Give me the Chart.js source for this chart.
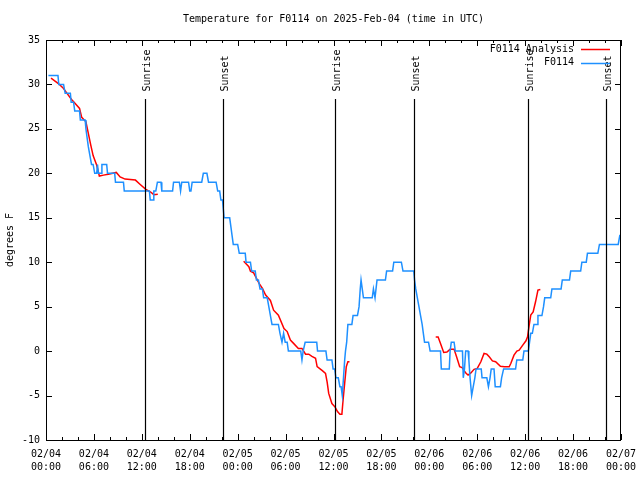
<!DOCTYPE html>
<html><head><meta charset="utf-8">
<script src="https://cdn.jsdelivr.net/npm/chart.js@4/dist/chart.umd.min.js"></script>
<style>html,body{margin:0;padding:0;background:#fff}#wrap{width:640px;height:480px;position:relative}</style>
</head><body><div id="wrap"><canvas id="c" width="640" height="480"></canvas></div>
<script>
const titleText = 'Temperature for F0114 on 2025-Feb-04 (time in UTC)';
const yAxisLabel = 'degrees F';
const seriesLabels = ['F0114 Analysis', 'F0114'];
const seriesColors = ['#ff0000', '#1e90ff'];
// x tick labels every 6 hours from 02/04 00:00 (x values are hours since then)
const xTickLabels = [
  ['02/04','00:00'],['02/04','06:00'],['02/04','12:00'],['02/04','18:00'],
  ['02/05','00:00'],['02/05','06:00'],['02/05','12:00'],['02/05','18:00'],
  ['02/06','00:00'],['02/06','06:00'],['02/06','12:00'],['02/06','18:00'],
  ['02/07','00:00']
];
const sunriseHours = [12.4, 36.25, 60.4];
const sunsetHours = [22.2, 46.1, 70.15];

// Observed F0114 temperature: [hours since 02/04 00:00, degF]
const obsPoints = [
[0.3,31],[1.5,31],[1.6,30],[2.2,30],[2.4,29],[3.05,29],[3.15,28],[3.45,28],[3.6,27],[4.2,27],[4.3,26],[4.9,26],
[5.0,25],[5.15,24],[5.3,23],[5.5,22],[5.7,21],[5.9,21],[6.1,20],[6.35,20],[6.45,21],[6.55,20],[6.9,20],[7.0,21],
[7.6,21],[7.7,20],[8.6,20],[8.7,19],[9.7,19],[9.8,18],[12.95,18],[13.05,17],[13.4,17],[13.5,18],[13.75,18],[13.95,19],
[14.4,19],[14.5,18],[15.85,18],[15.97,19],[16.7,19],[16.85,18],[17.0,19],[17.85,19],[18.0,18],[18.15,18],[18.3,19],
[19.5,19],[19.7,20],[20.15,20],[20.35,19],[21.3,19],[21.5,18],[21.75,18],[21.9,17],[22.1,17],[22.2,16],[22.3,15],
[23.0,15],[23.15,14],[23.3,13],[23.45,12],[24.0,12],[24.2,11],[24.95,11],[25.05,10],[25.6,10],[25.75,9],[26.2,9],
[26.35,8],[26.6,8],[26.8,7],[27.1,7],[27.25,6],[27.7,6],[27.9,5],[28.1,4],[28.3,3],[29.1,3],[29.3,2],[29.55,1],
[29.75,2],[29.95,1],[30.2,1],[30.35,0],[31.9,0],[32.05,-1],[32.2,0],[32.45,1],[33.9,1],[34.0,0],[35.05,0],[35.2,-1],
[35.8,-1],[35.95,-2],[36.15,-2],[36.3,-3],[36.6,-3],[36.8,-4],[36.95,-4],[37.1,-5],[37.25,-3],[37.4,-1],[37.5,0],
[37.65,1],[37.8,3],[38.3,3],[38.45,4],[39.0,4],[39.2,5],[39.35,7],[39.45,8],[39.6,7],[39.75,6],[40.85,6],[41.0,7],
[41.2,6],[41.3,6],[41.45,8],[42.5,8],[42.65,9],[43.4,9],[43.55,10],[44.5,10],[44.7,9],[46.05,9],[46.15,8],[46.3,7],
[46.5,6],[46.7,5],[46.9,4],[47.1,3],[47.25,2],[47.4,1],[47.9,1],[48.1,0],[49.4,0],[49.5,-2],[50.5,-2],[50.6,0],
[50.75,1],[51.1,1],[51.25,0],[52.15,0],[52.25,-3],[52.4,-2],[52.55,0],[52.85,0],[52.95,-1],[53.1,-3],[53.3,-5],
[53.5,-4],[53.7,-3],[53.85,-2],[54.5,-2],[54.6,-3],[55.2,-3],[55.4,-4],[55.6,-3],[55.75,-2],[56.1,-2],[56.25,-4],
[56.9,-4],[57.05,-3],[57.3,-2],[58.8,-2],[58.95,-1],[59.7,-1],[59.85,0],[60.4,0],[60.55,1],[60.7,2],[60.9,2],
[61.1,3],[61.5,3],[61.6,4],[62.1,4],[62.3,5],[62.45,6],[63.2,6],[63.35,7],[64.5,7],[64.65,8],[65.55,8],[65.7,9],
[66.95,9],[67.1,10],[67.65,10],[67.8,11],[69.1,11],[69.3,12],[71.65,12],[71.85,13],[71.95,13]
];

// Analysis temperature, three separate runs
const anaRun1 = [
[0.63,30.7],[1.55,30.1],[2.2,29.55],[2.63,29.0],[3.2,28.3],[3.6,27.9],[4.2,27.3],[4.47,26.3],[5.0,25.8],[5.3,24.5],
[5.6,23.2],[5.9,22.0],[6.35,20.9],[6.68,19.7],[7.2,19.8],[7.8,19.9],[8.8,20.1],[9.28,19.6],[9.9,19.35],[11.2,19.24],
[11.8,18.75],[12.5,18.2],[13.1,17.9],[13.5,17.6],[14.0,17.65]
];
const anaRun2 = [
[24.75,10.1],[25.4,9.5],[25.6,9.0],[26.0,8.8],[26.7,7.6],[27.1,7.05],[27.5,6.3],[28.1,5.7],[28.5,4.6],[29.1,4.05],
[29.8,2.55],[30.2,2.2],[30.6,1.24],[31.0,0.87],[31.6,0.3],[32.05,0.3],[32.5,-0.35],[32.9,-0.35],[33.3,-0.6],
[33.75,-0.8],[33.95,-1.75],[34.6,-2.2],[35.0,-2.5],[35.2,-3.45],[35.4,-4.76],[35.8,-5.9],[36.2,-6.3],[36.5,-6.8],
[36.8,-7.1],[37.05,-7.1],[37.2,-5.5],[37.4,-3.6],[37.6,-1.75],[37.8,-1.2],[38.0,-1.2]
];
const anaRun3 = [
[48.8,1.6],[49.1,1.6],[49.4,0.86],[49.8,-0.15],[50.2,-0.1],[50.6,0.2],[51.1,0.2],[51.4,-0.6],[51.8,-1.75],
[52.1,-1.85],[52.6,-2.5],[52.85,-2.7],[53.2,-2.45],[53.6,-2.05],[54.0,-1.95],[54.45,-1.2],[54.85,-0.26],[55.2,-0.34],
[55.5,-0.64],[55.9,-1.1],[56.3,-1.2],[56.9,-1.7],[57.4,-1.76],[58.0,-1.76],[58.2,-1.4],[58.6,-0.45],[58.96,0],
[59.25,0.1],[59.7,0.67],[60.1,1.16],[60.3,1.6],[60.5,2.9],[60.7,4.05],[61.0,4.4],[61.3,5.55],[61.6,6.86],[61.9,6.94]
];

const FONT = "'DejaVu Sans Mono', monospace";
const toXY = arr => arr.map(p => ({x: p[0], y: p[1]}));
const anaData = [].concat(toXY(anaRun1), [{x: 19, y: null}], toXY(anaRun2), [{x: 43, y: null}], toXY(anaRun3));

const decor = {
  id: 'decor',
  afterDatasetsDraw(chart) {
    const ctx = chart.ctx, xs = chart.scales.x, ys = chart.scales.y, a = chart.chartArea;
    ctx.save();
    // sunrise / sunset lines and labels
    ctx.strokeStyle = '#000'; ctx.lineWidth = 1.2;
    ctx.fillStyle = '#000'; ctx.font = '10px ' + FONT;
    const marks = sunriseHours.map(h => [h, 'Sunrise']).concat(sunsetHours.map(h => [h, 'Sunset']));
    marks.forEach(([h, txt]) => {
      const px = Math.round(xs.getPixelForValue(h)) + 0.5;
      ctx.beginPath();
      ctx.moveTo(px, ys.getPixelForValue(28.35));
      ctx.lineTo(px, ys.getPixelForValue(-10));
      ctx.stroke();
      ctx.save();
      ctx.translate(px + 2, ys.getPixelForValue(29.2));
      ctx.rotate(-Math.PI / 2);
      ctx.textAlign = 'left'; ctx.textBaseline = 'middle';
      ctx.fillText(txt, 0, 0);
      ctx.restore();
    });
    // frame
    ctx.lineWidth = 1;
    ctx.strokeRect(a.left + 0.5, a.top + 0.5, a.right - a.left - 1, a.bottom - a.top);
    // ticks
    ctx.beginPath();
    for (let h = 0; h <= 72; h += 2) {
      const px = Math.round(xs.getPixelForValue(h)) + 0.5;
      const len = (h % 6 === 0) ? 6 : 3;
      ctx.moveTo(px, a.bottom); ctx.lineTo(px, a.bottom - len);
      ctx.moveTo(px, a.top); ctx.lineTo(px, a.top + len);
    }
    for (let v = -10; v <= 35; v += 5) {
      const py = Math.round(ys.getPixelForValue(v)) + 0.5;
      ctx.moveTo(a.left, py); ctx.lineTo(a.left + 6, py);
      ctx.moveTo(a.right, py); ctx.lineTo(a.right - 6, py);
    }
    ctx.stroke();
    // legend
    ctx.textAlign = 'right'; ctx.textBaseline = 'middle';
    seriesLabels.forEach((lab, i) => {
      const y = 49 + i * 13.5;
      ctx.fillStyle = '#000';
      ctx.fillText(lab, 574, y);
      ctx.strokeStyle = seriesColors[i]; ctx.lineWidth = 1.5;
      ctx.beginPath(); ctx.moveTo(581, Math.round(y) + 0.5); ctx.lineTo(610, Math.round(y) + 0.5); ctx.stroke();
    });
    // title
    ctx.fillStyle = '#000'; ctx.textAlign = 'center'; ctx.textBaseline = 'middle';
    ctx.fillText(titleText, (a.left + a.right) / 2, 19);
    ctx.restore();
  }
};

new Chart(document.getElementById('c'), {
  type: 'line',
  data: {
    datasets: [
      {label: seriesLabels[1], data: toXY(obsPoints), borderColor: seriesColors[1], borderWidth: 1.5,
       pointRadius: 0, tension: 0, fill: false, order: 0},
      {label: seriesLabels[0], data: anaData, borderColor: seriesColors[0], borderWidth: 1.5,
       pointRadius: 0, tension: 0, fill: false, spanGaps: false, order: 1}
    ]
  },
  options: {
    responsive: false, animation: false,
    layout: {padding: {top: 40, right: 19, left: 0, bottom: 0}},
    plugins: {legend: {display: false}, title: {display: false}, tooltip: {enabled: false}},
    scales: {
      x: {
        type: 'linear', min: 0, max: 72,
        afterFit: s => { s.height = 40; s.paddingLeft = 0; s.paddingRight = 0; },
        ticks: {stepSize: 6, autoSkip: false, maxRotation: 0, minRotation: 0, padding: 8, color: '#000',
                font: {family: FONT, size: 10, lineHeight: 1.3},
                callback: v => xTickLabels[Math.round(v / 6)]},
        grid: {display: false, drawTicks: false},
        border: {display: false}
      },
      y: {
        min: -10, max: 35,
        afterFit: s => { s.width = 46; s.paddingTop = 0; s.paddingBottom = 0; },
        ticks: {stepSize: 5, padding: 6, color: '#000', font: {family: FONT, size: 10}},
        grid: {display: false, drawTicks: false},
        border: {display: false},
        title: {display: true, text: yAxisLabel, color: '#000', font: {family: FONT, size: 10}, padding: {top: 4, bottom: 0}}
      }
    }
  },
  plugins: [decor]
});
</script></body></html>
